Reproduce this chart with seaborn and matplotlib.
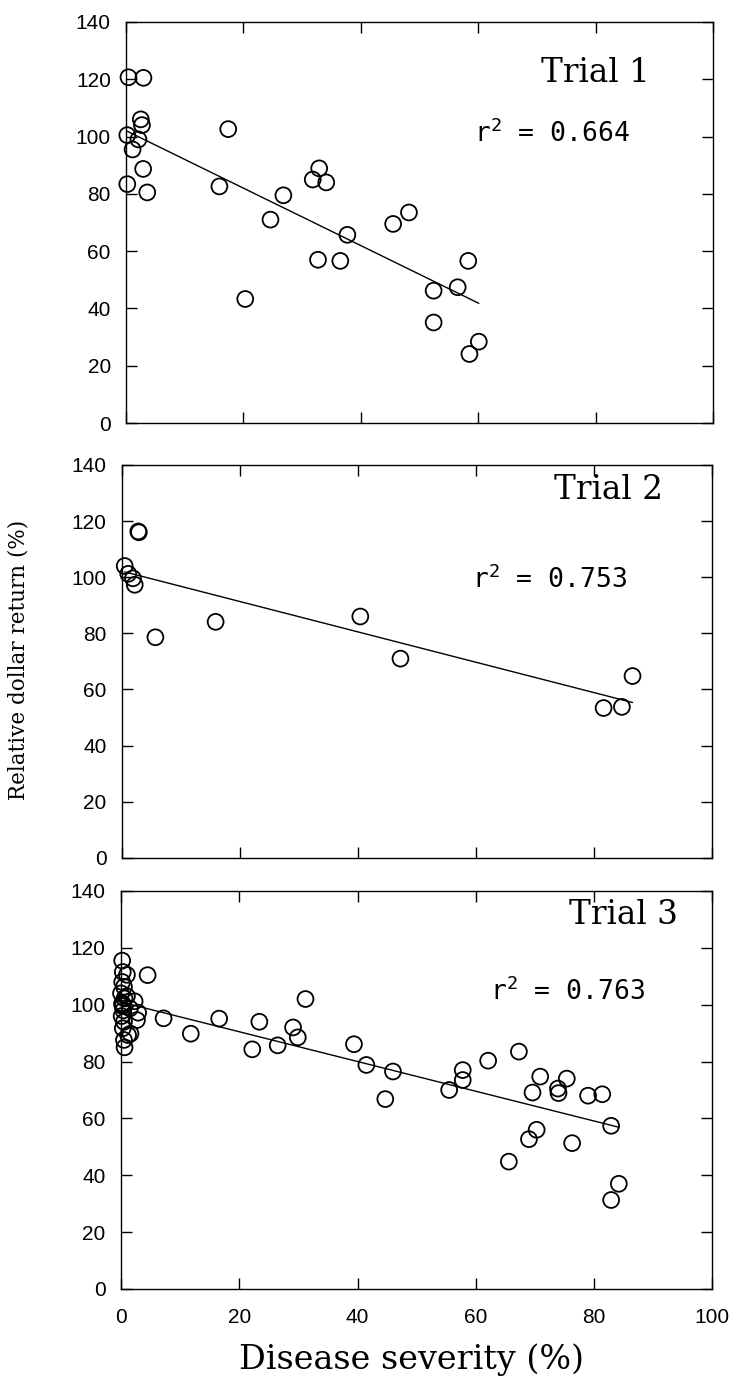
import numpy as np
import pandas as pd
import matplotlib
matplotlib.use("Agg")
import matplotlib.pyplot as plt
import seaborn as sns

# Trial 1 - disease severity (%) vs relative dollar return (%)
t1_severity = [0.4, 2.95, 2.5, 2.7, 0.2, 2.1, 1.1, 2.9, 0.2, 3.6, 17.4, 15.9, 20.3, 24.6, 26.8,
               31.8, 32.9, 34.1, 32.7, 36.5, 37.7, 45.5, 48.2, 52.4, 52.4, 56.5, 58.3, 58.5, 60.1]
t1_return = [120.7, 120.5, 106.0, 104.0, 100.5, 99.0, 95.5, 88.7, 83.4, 80.5, 102.6, 82.6, 43.3, 71.0, 79.5,
             85.0, 88.9, 84.0, 57.0, 56.6, 65.7, 69.5, 73.5, 46.2, 35.1, 47.4, 56.6, 24.1, 28.4]

# Trial 2
t2_severity = [0.5, 1.1, 1.9, 2.2, 2.8, 2.9, 5.7, 15.9, 40.4, 47.2, 81.6, 84.7, 86.5]
t2_return = [104.0, 101.2, 99.6, 97.3, 116.3, 116.0, 78.6, 84.1, 86.0, 71.0, 53.4, 53.8, 64.8]

# Trial 3
t3_severity = [0.2, 0.3, 1.0, 0.2, 0.5, 0.0, 0.6, 0.2, 2.3, 1.5, 2.9, 0.1, 0.5, 2.7, 0.3, 1.2,
               0.5, 0.6, 1.6, 0.3, 0.4, 1.0, 0.2,
               4.5, 7.2, 11.8, 16.6, 22.2, 23.4, 26.5, 29.1, 29.9, 31.2, 39.4, 41.5, 46.0, 44.7,
               55.5, 57.8, 57.8, 62.1, 67.3, 70.9, 69.6, 73.9, 74.0, 75.4, 79.0, 81.4, 82.9,
               70.3, 69.0, 76.3, 65.6, 84.2, 82.9]
t3_return = [115.5, 111.5, 110.5, 108.0, 106.3, 104.0, 102.2, 100.5, 101.2, 98.7, 97.2, 96.0, 94.0, 94.6,
             91.7, 89.3, 87.6, 85.0, 89.8, 99.5, 98.0, 103.0, 100.0,
             110.4, 95.2, 89.8, 95.1, 84.3, 94.0, 85.7, 92.0, 88.5, 102.0, 86.1, 78.8, 76.5, 66.8,
             70.0, 77.0, 73.5, 80.3, 83.5, 74.7, 69.1, 70.5, 68.9, 74.0, 68.0, 68.5, 57.4,
             56.0, 52.7, 51.3, 44.8, 37.0, 31.3]

trial_names = ["Trial 1", "Trial 2", "Trial 3"]
r2_values = [0.664, 0.753, 0.763]

x_ticks = [0, 20, 40, 60, 80, 100]
y_ticks = [0, 20, 40, 60, 80, 100, 120, 140]

sns.set_theme(style="white")
plt.rcParams["font.family"] = ["Liberation Sans", "DejaVu Sans"]
plt.rcParams["text.color"] = "black"

fig = plt.figure(figsize=(7.29, 13.82), dpi=100)

# axes boxes [left, bottom, width, height] in figure fraction
boxes = [
    [0.173, 0.6939, 0.805, 0.2902],
    [0.167, 0.3792, 0.810, 0.2844],
    [0.166, 0.0673, 0.811, 0.2880],
]
# label positions in data coords: (trial text x, y), (r2 text x, y)
label_pos = [((80.0, 119.0), (72.5, 98.0)),
             ((82.5, 128.0), (72.5, 96.0)),
             ((85.0, 128.5), (75.5, 101.5))]

series = [(t1_severity, t1_return), (t2_severity, t2_return), (t3_severity, t3_return)]

for i, (xs, ys) in enumerate(series):
    df = pd.DataFrame({"severity": xs, "ret": ys})
    ax = fig.add_axes(boxes[i])

    sns.regplot(data=df, x="severity", y="ret", ax=ax, scatter=False, ci=None,
                color="black", line_kws={"linewidth": 1.0})
    sns.scatterplot(data=df, x="severity", y="ret", ax=ax, marker="o", s=130,
                    facecolors="none", edgecolors="black", linewidth=1.3,
                    clip_on=False, zorder=3)

    ax.set_xlim(0, 100)
    ax.set_ylim(0, 140)
    ax.set_xticks(x_ticks)
    ax.set_yticks(y_ticks)
    ax.set_xlabel("")
    ax.set_ylabel("")
    for sp in ax.spines.values():
        sp.set_visible(True)
        sp.set_color("black")
        sp.set_linewidth(1.0)
    ax.tick_params(axis="both", direction="in", length=8, width=1.0, colors="black",
                   top=True, right=True, bottom=True, left=True, labelsize=15)
    ax.tick_params(axis="y", pad=11)
    ax.tick_params(axis="x", pad=14, labelbottom=(i == 2))

    (tx, ty), (rx, ry) = label_pos[i]
    ax.text(tx, ty, trial_names[i], ha="center", va="baseline", fontsize=23.5,
            family="DejaVu Serif", color="black")
    ax.text(rx, ry, r"r$^{\mathregular{2}}$ = " + f"{r2_values[i]:.3f}", ha="center",
            va="baseline", fontsize=19, family="DejaVu Sans Mono", color="black")

fig.text(0.025, 0.5224, "Relative dollar return (%)", rotation=90, ha="center",
         va="center", fontsize=15.5, family="DejaVu Serif", color="black")
fig.text(0.565, 0.016, "Disease severity (%)", ha="center", va="center",
         fontsize=24, family="DejaVu Serif", color="black")

fig.savefig("out.png", dpi=100, facecolor="white")
